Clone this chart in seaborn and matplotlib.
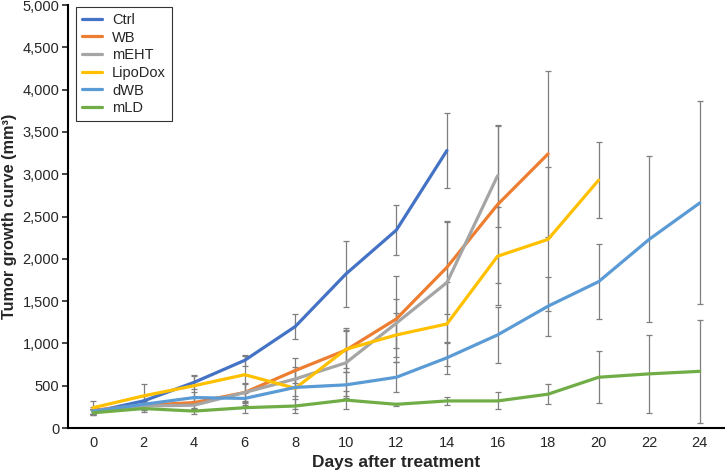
import numpy as np
import pandas as pd
import matplotlib
matplotlib.use("Agg")
import matplotlib.pyplot as plt
import seaborn as sns
from matplotlib.ticker import FuncFormatter

days = [0, 2, 4, 6, 8, 10, 12, 14, 16, 18, 20, 22, 24]
groups = ["Ctrl", "WB", "mEHT", "LipoDox", "dWB", "mLD"]
colors = ["#4472C4", "#ED7D31", "#A5A5A5", "#FFC000", "#5B9BD5", "#70AD47"]

ctrl = [190, 320, 540, 800, 1200, 1820, 2340, 3280]
ctrl_err = [40, 60, 80, 65, 145, 390, 295, 445]
wb = [210, 270, 300, 420, 680, 920, 1290, 1900, 2640, 3240]
wb_err = [40, 60, 60, 110, 150, 260, 510, 550, 930, 980]
meht = [200, 260, 270, 420, 580, 770, 1240, 1720, 2980]
meht_err = [30, 50, 50, 100, 110, 390, 290, 720, 600]
lipodox = [240, 380, 500, 630, 470, 930, 1100, 1230, 2030, 2230, 2930]
lipodox_err = [80, 140, 130, 220, 250, 220, 260, 500, 580, 850, 450]
dwb = [200, 280, 360, 350, 480, 510, 600, 830, 1100, 1440, 1730, 2230, 2660]
dwb_err = [30, 40, 60, 80, 100, 150, 180, 190, 330, 350, 440, 980, 1200]
mld = [180, 230, 200, 240, 260, 330, 280, 320, 320, 400, 600, 640, 670]
mld_err = [30, 40, 30, 60, 80, 110, 20, 50, 100, 120, 310, 460, 610]

series = [(ctrl, ctrl_err), (wb, wb_err), (meht, meht_err),
          (lipodox, lipodox_err), (dwb, dwb_err), (mld, mld_err)]

rows = []
for g, (vals, errs) in zip(groups, series):
    for d, v, e in zip(days, vals, errs):
        rows.append({"day": d, "volume": v, "err": e, "group": g})
df = pd.DataFrame(rows)

sns.set_style("white")
plt.rcParams["font.family"] = ["Liberation Sans", "DejaVu Sans"]

fig = plt.figure(figsize=(7.25, 4.72), dpi=100)
ax = fig.add_axes([0.0935, 0.0932, 0.9065, 0.8962])

# error bars first (gray)
for g in groups:
    sub = df[df.group == g]
    ax.errorbar(sub.day, sub.volume, yerr=sub.err, fmt="none",
                ecolor="#7F7F7F", elinewidth=0.9, capsize=2.5, capthick=0.9, zorder=2)

sns.lineplot(data=df, x="day", y="volume", hue="group", hue_order=groups,
             palette=colors, linewidth=2.3, ax=ax, zorder=3)

ax.set_xlim(-1, 25)
ax.set_ylim(0, 5000)
ax.set_xticks(days)
ax.set_yticks(np.arange(0, 5001, 500))
ax.yaxis.set_major_formatter(FuncFormatter(lambda v, p: f"{int(v):,}"))
ax.tick_params(axis="y", direction="out", length=4, width=1.2, labelsize=10.5, left=True, pad=2)
ax.tick_params(axis="x", length=0, labelsize=10.5, pad=6)
for s in ["top", "right"]:
    ax.spines[s].set_visible(False)
for s in ["left", "bottom"]:
    ax.spines[s].set_color("black")
    ax.spines[s].set_linewidth(1.5)

ax.set_xlabel("Days after treatment", fontsize=12.5, fontweight="bold")
ax.set_ylabel("Tumor growth curve (mm³)", fontsize=11.7, fontweight="bold")
ax.xaxis.set_label_coords(0.5, -0.064)
ax.yaxis.set_label_coords(-0.078, 0.5)

leg = ax.legend(loc="upper left", bbox_to_anchor=(0.012, 0.995), frameon=True,
                fontsize=10.5, handlelength=1.4, handletextpad=0.7, borderpad=0.4,
                labelspacing=0.25, borderaxespad=0.0, fancybox=False, title=None)
leg.get_frame().set_edgecolor("black")
leg.get_frame().set_linewidth(0.8)

fig.savefig("out.png", dpi=100)
